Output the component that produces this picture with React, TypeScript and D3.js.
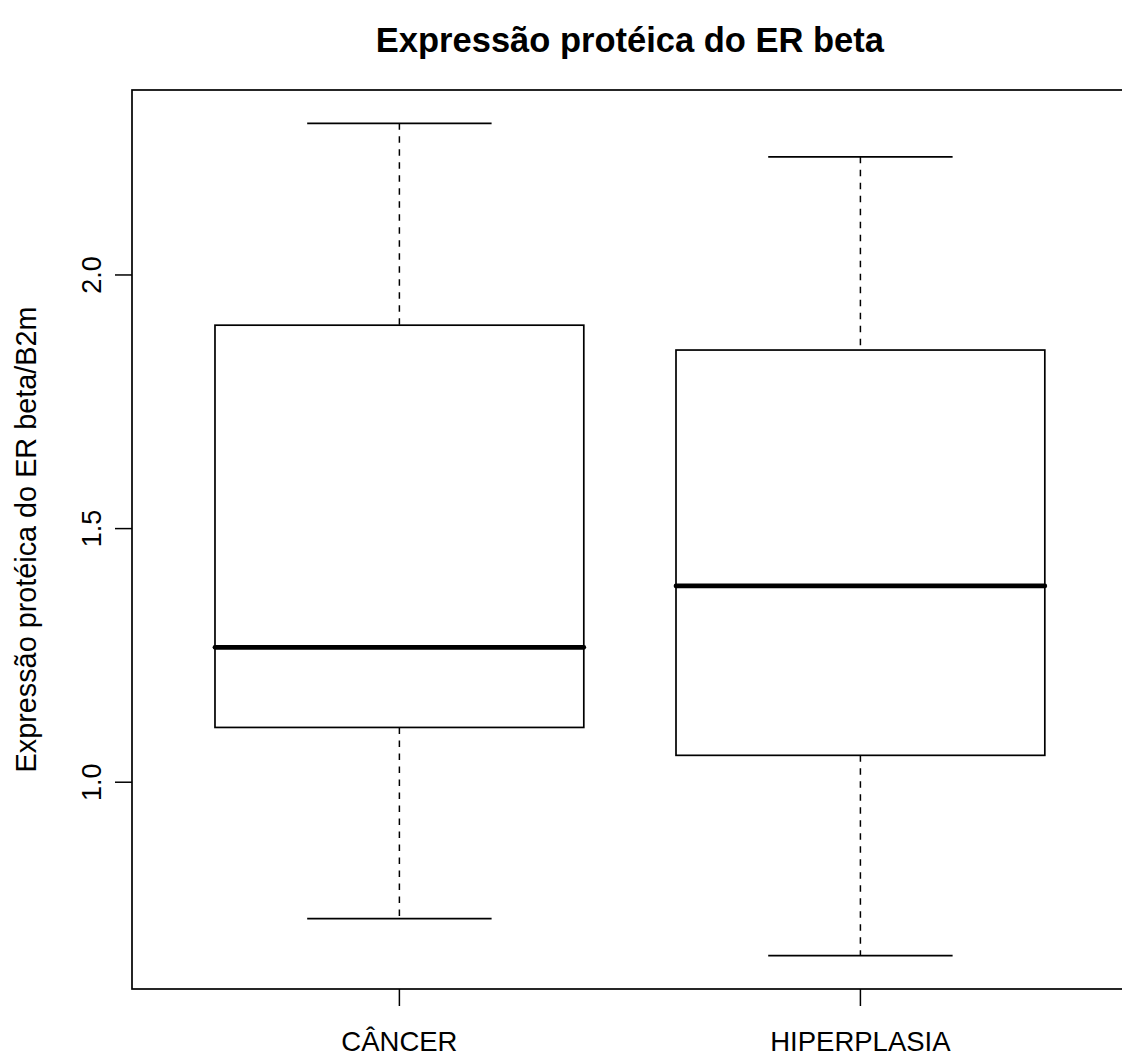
import React from "react";
import * as d3 from "d3";

const categories = ["CÂNCER", "HIPERPLASIA"];
const lowerWhisker = [0.731, 0.658];
const q1 = [1.108, 1.053];
const median = [1.266, 1.387];
const q3 = [1.901, 1.852];
const upperWhisker = [2.299, 2.233];
const yTicks = [1.0, 1.5, 2.0];

const title = "Expressão protéica do ER beta";
const yTitle = "Expressão protéica do ER beta/B2m";

export default function App() {
  const W = 1122;
  const H = 1056;
  const left = 132;
  const top = 90;
  const bottom = 989;
  const n = categories.length;
  const x = d3.scaleLinear().domain([0.42, n + 0.58]).range([left, left + (1127.4 - 131.6)]);
  const lo = d3.min(lowerWhisker) as number;
  const hi = d3.max(upperWhisker) as number;
  const pad = (hi - lo) * 0.04;
  const y = d3.scaleLinear().domain([lo - pad, hi + pad]).range([bottom, top]);
  const right = x(n + 0.58);
  const font = "'Liberation Sans', Arial, Helvetica, sans-serif";

  return (
    <svg width={W} height={H} style={{ position: "absolute", left: 0, top: 0, background: "#fff" }}>
      <rect x={0} y={0} width={W} height={H} fill="#fff" />
      <text x={(left + right) / 2} y={52} textAnchor="middle" fontFamily={font} fontWeight="bold" fontSize={34.5} fill="#000">
        {title}
      </text>
      <rect x={left} y={top} width={right - left} height={bottom - top} fill="none" stroke="#000" strokeWidth={1.7} />
      {yTicks.map((t) => (
        <g key={t}>
          <line x1={left - 17} x2={left} y1={y(t)} y2={y(t)} stroke="#000" strokeWidth={1.5} />
          <text transform={`translate(101,${y(t)}) rotate(-90)`} textAnchor="middle" fontFamily={font} fontSize={27} fill="#000">
            {t.toFixed(1)}
          </text>
        </g>
      ))}
      <text transform={`translate(36,${(top + bottom) / 2}) rotate(-90)`} textAnchor="middle" fontFamily={font} fontSize={28.8} fill="#000">
        {yTitle}
      </text>
      {categories.map((c, i) => {
        const cx = x(i + 1);
        const bw = x(0.4) - x(0);
        const sw = x(0.2) - x(0);
        return (
          <g key={c}>
            <line x1={cx} x2={cx} y1={bottom} y2={bottom + 17} stroke="#000" strokeWidth={1.5} />
            <text x={cx} y={1051} textAnchor="middle" fontFamily={font} fontSize={27.5} fill="#000">
              {c}
            </text>
            <line x1={cx} x2={cx} y1={y(upperWhisker[i])} y2={y(q3[i])} stroke="#000" strokeWidth={1.5} strokeDasharray="6.5,6.5" />
            <line x1={cx} x2={cx} y1={y(q1[i])} y2={y(lowerWhisker[i])} stroke="#000" strokeWidth={1.5} strokeDasharray="6.5,6.5" />
            <line x1={cx - sw} x2={cx + sw} y1={y(upperWhisker[i])} y2={y(upperWhisker[i])} stroke="#000" strokeWidth={1.7} />
            <line x1={cx - sw} x2={cx + sw} y1={y(lowerWhisker[i])} y2={y(lowerWhisker[i])} stroke="#000" strokeWidth={1.7} />
            <rect x={cx - bw} y={y(q3[i])} width={2 * bw} height={y(q1[i]) - y(q3[i])} fill="#fff" stroke="#000" strokeWidth={1.7} />
            <line x1={cx - bw} x2={cx + bw} y1={y(median[i])} y2={y(median[i])} stroke="#000" strokeWidth={4.7} strokeLinecap="round" />
          </g>
        );
      })}
    </svg>
  );
}
